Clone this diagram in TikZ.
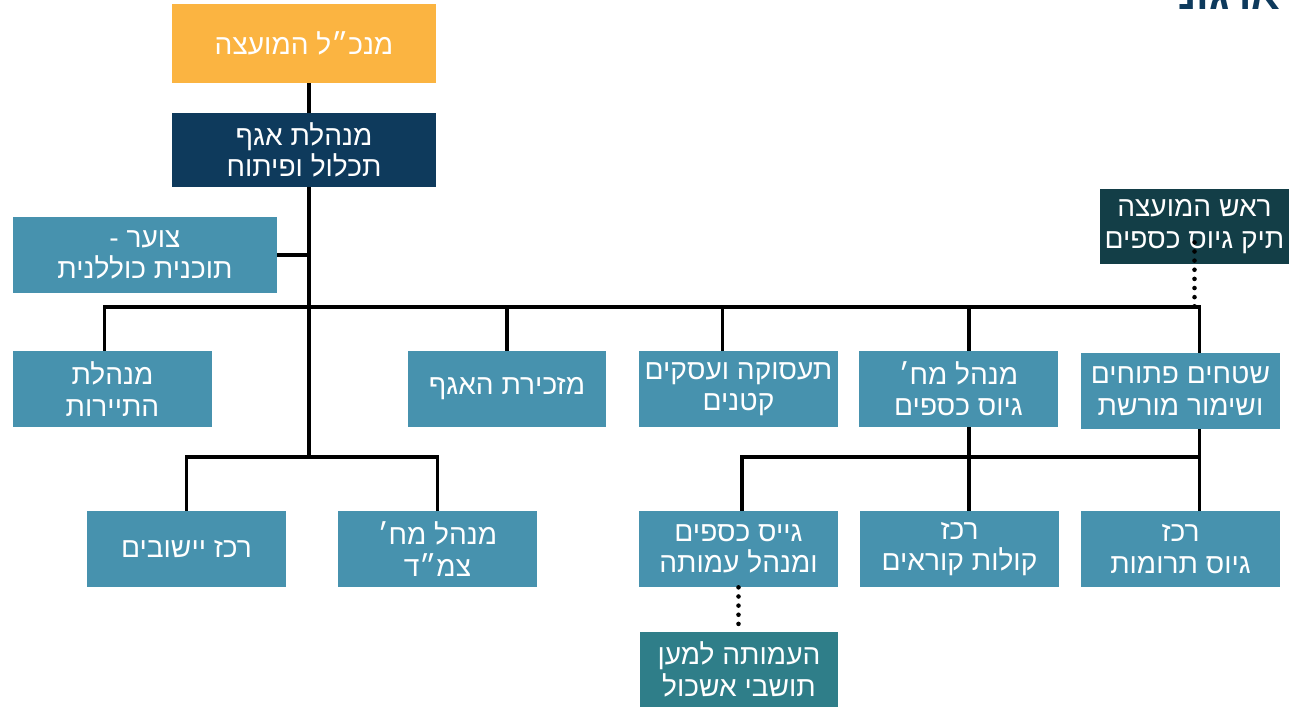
\documentclass[tikz,border=0pt]{standalone}
\usepackage{fontspec}
\newfontfamily\hebfont[Script=Hebrew]{Liberation Sans}
\TeXXeTstate=1
\newcommand{\rl}[1]{\beginR#1\endR}
\definecolor{boxblue}{HTML}{4792AE}
\definecolor{gmorange}{HTML}{FBB441}
\definecolor{dirnavy}{HTML}{0E3A5C}
\definecolor{headteal}{HTML}{133E47}
\definecolor{assocteal}{HTML}{2F7E89}
\tikzset{
  unit/.style={fill=boxblue, text=white, inner sep=0pt, align=center,
    minimum width=3.98cm, minimum height=1.52cm,
    font=\hebfont\fontsize{16}{17.8}\selectfont},
  link/.style={line width=2.2pt},
  dots/.style={line width=2.6pt, line cap=round, dash pattern=on 0pt off 5.2pt}
}
\begin{document}
\begin{tikzpicture}[x=0.02cm,y=-0.02cm]
  \useasboundingbox (0,0) rectangle (1291,709);
  % title, cut off at the top
  \node[anchor=base east, inner sep=0pt, text=dirnavy, font=\hebfont\bfseries\fontsize{24}{24}\selectfont] (title) at (1281,10) {\rl{ארגוני}};
  % top
  \node[unit, fill=gmorange, minimum width=5.28cm, minimum height=1.58cm] (gm) at (304,43.5) {\rl{מנכ״ל המועצה}};
  \node[unit, fill=dirnavy, minimum width=5.28cm, minimum height=1.48cm] (dir) at (304,150) {\rl{מנהלת אגף}\\\rl{תכלול ופיתוח}};
  \node[unit, minimum width=5.28cm] (cadet) at (145,255) {\rl{צוער -}\\\rl{תוכנית כוללנית}};
  \node[unit, fill=headteal, minimum width=3.78cm, minimum height=1.5cm] (head) at (1194.5,226.5) {\rl{ראש המועצה}\\\rl{תיק גיוס כספים}};
  % first row
  \node[unit] (tour) at (112.5,389) {\rl{מנהלת}\\\rl{התיירות}};
  \node[unit] (sec) at (507,389) {\rl{מזכירת האגף}};
  \node[unit] (emp) at (738.5,389) {\rl{תעסוקה ועסקים}\\\rl{קטנים}};
  \node[unit] (fund) at (958.5,389) {\rl{מנהל מח׳}\\\rl{גיוס כספים}};
  \node[unit] (open) at (1180.5,391) {\rl{שטחים פתוחים}\\\rl{ושימור מורשת}};
  % second row
  \node[unit] (set) at (186.5,549) {\rl{רכז יישובים}};
  \node[unit] (cmd) at (437.5,549) {\rl{מנהל מח׳}\\\rl{צמ״ד}};
  \node[unit] (mgr) at (738.5,549) {\rl{גייס כספים}\\\rl{ומנהל עמותה}};
  \node[unit] (calls) at (959.5,549) {\rl{רכז}\\\rl{קולות קוראים}};
  \node[unit] (don) at (1180.5,549) {\rl{רכז}\\\rl{גיוס תרומות}};
  \node[unit, fill=assocteal, minimum height=1.5cm] (assoc) at (739,669.5) {\rl{העמותה למען}\\\rl{תושבי אשכול}};
  % bars and line positions
  \coordinate (bar1) at (0,307);
  \coordinate (bar2) at (0,457);
  \coordinate (trunk) at ([xshift=0.1cm]dir.south);
  \coordinate (tourx) at ([xshift=-0.16cm]tour.north);
  \coordinate (empx) at ([xshift=-0.32cm]emp.north);
  \coordinate (fundx) at ([xshift=0.21cm]fund.south);
  \coordinate (openx) at ([xshift=0.38cm]open.south);
  % connectors
  \draw[link] ([xshift=0.1cm]gm.south) -- ([xshift=0.1cm]dir.north);
  \draw[link] (trunk) -- (trunk |- bar2);
  \draw[link] (cadet.east) -- (cadet.east -| trunk);
  \draw[link] (tourx) |- (openx |- bar1) -- (openx |- open.north);
  \draw[link] (sec.north) -- (sec.north |- bar1);
  \draw[link] (empx) -- (empx |- bar1);
  \draw[link] (fundx |- fund.north) -- (fundx |- bar1);
  \draw[link] (set.north) |- (cmd.north |- bar2) -- (cmd.north);
  \draw[link] (fundx) -- (fundx |- calls.north);
  \draw[link] (openx) -- (openx |- don.north);
  \draw[link] ([xshift=0.07cm]mgr.north) |- (openx |- bar2);
  \draw[dots] ([yshift=0.44cm]head.south) -- (head.south |- bar1);
  \draw[dots] (mgr.south) -- (mgr.south |- assoc.north);
\end{tikzpicture}
\end{document}
